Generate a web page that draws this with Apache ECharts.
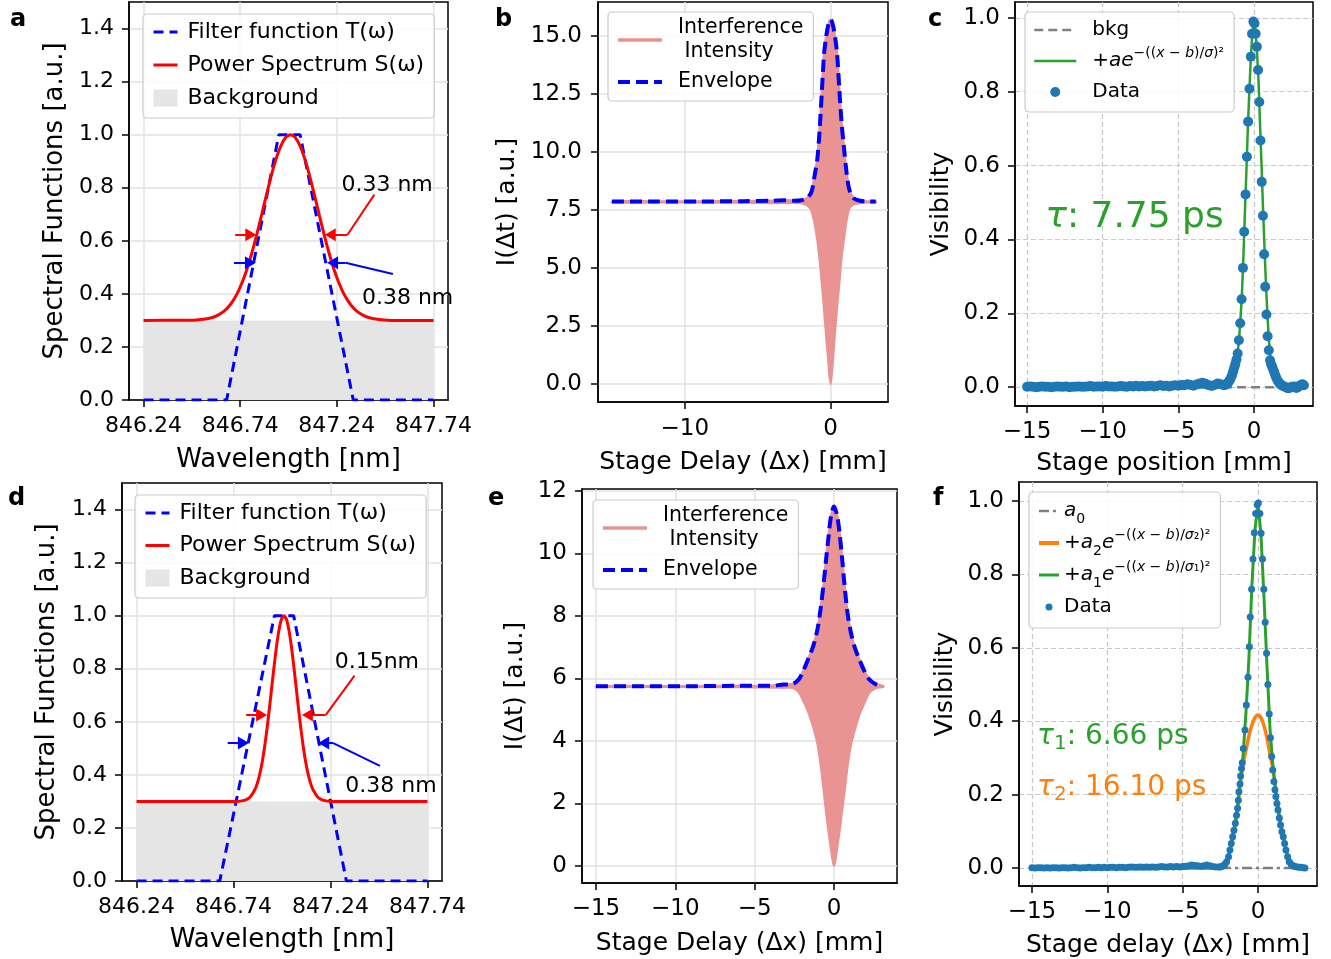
<!DOCTYPE html>
<html><head><meta charset="utf-8">
<script src="https://cdn.jsdelivr.net/npm/echarts@6/dist/echarts.min.js"></script>
<style>html,body{margin:0;padding:0;background:#fff}#c{width:1331px;height:959px}</style>
</head><body><div id="c"></div><script>
// ---------------- Panel a ----------------
const aFilter = [[846.24,0],[846.67,0],[846.94,1],[847.05,1],[847.325,0],[847.74,0]];
const aSpectrum = [[846.24,0.3],[846.45,0.301],[846.5,0.301],[846.55,0.304],[846.6,0.312],[846.625,0.32],[846.65,0.331],[846.675,0.348],[846.7,0.371],[846.725,0.402],[846.75,0.443],[846.775,0.493],[846.8,0.553],[846.825,0.621],[846.85,0.695],[846.875,0.77],[846.9,0.843],[846.925,0.907],[846.95,0.957],[846.975,0.989],[847.0,1.0],[847.025,0.989],[847.05,0.957],[847.075,0.907],[847.1,0.843],[847.125,0.77],[847.15,0.695],[847.175,0.621],[847.2,0.553],[847.225,0.493],[847.25,0.443],[847.275,0.402],[847.3,0.371],[847.325,0.348],[847.35,0.331],[847.375,0.32],[847.4,0.312],[847.45,0.304],[847.5,0.301],[847.55,0.3],[847.74,0.3]];
const aBackground = [[846.24,0.3],[847.74,0.3]];
// arrows: [x1,y1,x2,y2,hasHead]
const aRedArrows = [[846.714,0.623,846.795,0.623,1],[847.434,0.774,847.295,0.623,0],[847.295,0.623,847.206,0.623,1]];
const aBlueArrows = [[846.708,0.517,846.793,0.517,1],[847.53,0.475,847.285,0.517,0],[847.285,0.517,847.218,0.517,1]];
const aNotes = [[847.50,0.811,'0.33 nm'],[847.606,0.385,'0.38 nm']];

// ---------------- Panel d ----------------
const dFilter = [[846.24,0],[846.669,0],[846.951,1],[847.05,1],[847.322,0],[847.74,0]];
const dSpectrum = [[846.24,0.3],[846.75,0.3],[846.775,0.301],[846.8,0.305],[846.825,0.316],[846.85,0.344],[846.8625,0.368],[846.875,0.402],[846.8875,0.447],[846.9,0.504],[846.9125,0.573],[846.925,0.65],[846.9375,0.733],[846.95,0.814],[846.9625,0.889],[846.975,0.948],[846.9875,0.987],[847.0,1.0],[847.0125,0.987],[847.025,0.948],[847.0375,0.889],[847.05,0.814],[847.0625,0.733],[847.075,0.65],[847.0875,0.573],[847.1,0.504],[847.1125,0.447],[847.125,0.402],[847.1375,0.368],[847.15,0.344],[847.175,0.316],[847.2,0.305],[847.225,0.301],[847.25,0.3],[847.74,0.3]];
const dBackground = [[846.24,0.3],[847.74,0.3]];
const dRedArrows = [[846.805,0.626,846.885,0.626,1],[847.364,0.774,847.216,0.626,0],[847.216,0.626,847.121,0.626,1]];
const dBlueArrows = [[846.71,0.52,846.791,0.52,1],[847.495,0.434,847.254,0.52,0],[847.254,0.52,847.205,0.52,1]];
const dNotes = [[847.479,0.823,'0.15nm'],[847.552,0.358,'0.38 nm']];

// ---------------- Panel b ----------------
const bX = [-15,-12,-9,-6,-4,-3,-2.5,-2,-1.6,-1.3,-1.1,-0.9,-0.75,-0.6,-0.45,-0.3,-0.15,0,0.15,0.3,0.45,0.6,0.75,0.9,1.1,1.3,1.6,2.0,2.5,3.1];
const bUpper = [7.87,7.87,7.87,7.88,7.9,7.92,7.9,7.92,8.02,8.3,8.97,9.75,10.97,12.6,14.2,15.0,15.5,15.72,15.5,15.0,14.2,12.7,11.3,10.3,9.1,8.35,8.0,7.9,7.87,7.87];
const bLower = [7.83,7.83,7.83,7.82,7.8,7.8,7.82,7.8,7.7,7.45,6.95,6.2,5.4,4.4,3.3,2.1,1.0,0.0,1.0,2.3,3.4,4.4,5.5,6.2,7.1,7.6,7.75,7.8,7.83,7.83];

// ---------------- Panel e ----------------
const eX = [-15,-12,-9,-6,-4,-3.2,-2.6,-2.2,-1.9,-1.6,-1.3,-1.05,-0.85,-0.65,-0.5,-0.35,-0.2,0,0.2,0.35,0.5,0.65,0.85,1.05,1.3,1.6,1.9,2.2,2.6,3.1];
const eUpper = [5.75,5.75,5.75,5.76,5.76,5.8,5.82,5.98,6.28,6.65,7.05,7.55,8.2,9.05,9.8,10.5,11.15,11.5,11.2,10.65,9.9,9.05,8.1,7.5,7.0,6.6,6.25,5.98,5.82,5.75];
const eLower = [5.73,5.73,5.73,5.72,5.71,5.7,5.7,5.55,5.25,4.9,4.45,3.95,3.3,2.45,1.75,1.15,0.6,0.0,0.6,1.15,1.75,2.35,3.2,3.85,4.35,4.85,5.2,5.52,5.68,5.73];

// ---------------- Panel c ----------------
const cFlatStart = -15, cFlatStep = 0.2;
const cFlatY = [0.001,0.002,0.001,0,0.001,0.002,0.001,0.001,0,0.001,
 0.002,0.001,0.001,0.002,0,0.001,0.001,0.002,0.001,0.001,
 0.002,0.003,0.001,0.002,0.002,0.001,0.003,0.002,0.002,0.001,
 0.002,0.003,0.002,0.001,0.003,0.002,0.004,0.002,0.003,0.002,
 0.003,0.004,0.002,0.003,0.005,0.003,0.004,0.002,0.004,0.005,
 0.004,0.006,0.005,0.008,0.006,0.004,0.007,0.01,0.012,0.009,
 0.005,0.003,0.006,0.01,0.008,0.005];
const cPeak = [[-1.9,0.006],[-1.8,0.009],[-1.72,0.012],[-1.65,0.016],[-1.58,0.021],[-1.51,0.027],[-1.44,0.034],[-1.37,0.044],[-1.3,0.054],[-1.23,0.063],[-1.16,0.075],[-1.08,0.091],[-1.0,0.127],[-0.91,0.173],[-0.82,0.238],[-0.73,0.323],[-0.65,0.421],[-0.56,0.522],[-0.47,0.624],[-0.39,0.719],[-0.3,0.808],[-0.21,0.895],[-0.13,0.957],[-0.04,0.99],[0.035,0.985],[0.11,0.957],[0.19,0.922],[0.27,0.859],[0.35,0.772],[0.43,0.668],[0.51,0.556],[0.59,0.464],[0.67,0.36],[0.74,0.272],[0.82,0.197],[0.9,0.138],[0.98,0.1],[1.06,0.073],[1.13,0.062],[1.2,0.055],[1.27,0.048],[1.34,0.04],[1.41,0.032],[1.48,0.025],[1.56,0.018],[1.64,0.013],[1.72,0.009],[1.8,0.006],[1.9,0.003],[2.0,0.002],[2.1,0.0],[2.2,-0.002],[2.3,-0.003],[2.4,-0.001],[2.5,0.001],[2.6,0.0],[2.7,0.002],[2.8,-0.002],[2.9,0.0],[3.0,0.003],[3.1,0.006],[3.2,0.008],[3.3,0.005]];
const cFit = [[-15,0],[-2.4,0.0],[-2.0,0.003],[-1.7,0.01],[-1.5,0.02],[-1.3,0.04],[-1.15,0.07],[-1.0,0.125],[-0.9,0.18],[-0.8,0.25],[-0.7,0.355],[-0.6,0.475],[-0.5,0.59],[-0.4,0.71],[-0.3,0.81],[-0.2,0.9],[-0.1,0.965],[0,0.99],[0.1,0.965],[0.2,0.905],[0.3,0.83],[0.4,0.71],[0.5,0.6],[0.6,0.48],[0.7,0.37],[0.8,0.27],[0.9,0.185],[1.0,0.12],[1.1,0.075],[1.3,0.035],[1.5,0.018],[1.7,0.008],[2.0,0.002],[2.4,0],[3.3,0]];
const cBkg = [[-15,0],[3.3,0]];
const cNote = [[-7.9,0.458,'{ti|τ}{t|: 7.75 ps}']];

// ---------------- Panel f ----------------
const fFlatStart = -15, fFlatStep = 0.2;
const fFlatY = [0.001,0,0.001,0.001,0,0.001,0,0.001,0.001,0,
 0.001,0.001,0,0.001,0.002,0.001,0,0.001,0.001,0.002,
 0.001,0.001,0.002,0.001,0.002,0.001,0.002,0.002,0.001,0.002,
 0.002,0.001,0.002,0.003,0.002,0.002,0.003,0.002,0.003,0.002,
 0.003,0.002,0.003,0.004,0.003,0.003,0.004,0.003,0.004,0.003,
 0.004,0.005,0.006,0.008,0.007,0.006,0.005,0.006,0.008,0.006,
 0.004,0.003,0.003];
const fPeak = [[-2.5,0.003],[-2.4,0.004],[-2.3,0.006],[-2.19,0.01],[-2.08,0.017],[-1.95,0.031],[-1.86,0.049],[-1.77,0.067],[-1.68,0.085],[-1.59,0.103],[-1.5,0.122],[-1.42,0.144],[-1.35,0.163],[-1.3,0.185],[-1.26,0.208],[-1.19,0.229],[-1.15,0.251],[-1.09,0.271],[-1.04,0.287],[-0.97,0.326],[-0.86,0.376],[-0.77,0.444],[-0.66,0.52],[-0.57,0.603],[-0.51,0.684],[-0.42,0.76],[-0.33,0.842],[-0.24,0.914],[-0.15,0.966],[-0.05,0.99],[0.03,0.995],[0.13,0.966],[0.21,0.912],[0.3,0.842],[0.39,0.76],[0.48,0.67],[0.57,0.585],[0.66,0.5],[0.75,0.42],[0.83,0.355],[0.91,0.304],[0.98,0.267],[1.06,0.236],[1.13,0.213],[1.19,0.195],[1.26,0.176],[1.33,0.158],[1.42,0.136],[1.5,0.117],[1.59,0.099],[1.68,0.085],[1.77,0.067],[1.86,0.049],[1.97,0.031],[2.08,0.017],[2.2,0.01],[2.33,0.006],[2.46,0.004],[2.6,0.003],[2.73,0.002],[2.86,0.002],[3.0,0.001],[3.12,0.0]];
const fFitNarrow = [[-15,0],[-3.0,0.001],[-2.7,0.004],[-2.4,0.009],[-2.1,0.02],[-1.95,0.033],[-1.8,0.06],[-1.68,0.086],[-1.5,0.124],[-1.35,0.167],[-1.2,0.23],[-1.0,0.3],[-0.8,0.42],[-0.6,0.57],[-0.4,0.77],[-0.2,0.92],[0,0.995],[0.2,0.91],[0.4,0.74],[0.6,0.55],[0.8,0.38],[1.0,0.275],[1.2,0.205],[1.35,0.16],[1.5,0.12],[1.68,0.086],[1.8,0.063],[1.95,0.036],[2.1,0.02],[2.4,0.008],[2.7,0.003],[3.1,0.0]];
const fFitBroad = [[-15,0],[-3.0,0.0],[-2.7,0.002],[-2.4,0.007],[-2.1,0.018],[-1.95,0.03],[-1.8,0.058],[-1.68,0.083],[-1.5,0.12],[-1.35,0.163],[-1.2,0.22],[-1.0,0.28],[-0.8,0.32],[-0.6,0.36],[-0.4,0.39],[-0.2,0.41],[0,0.417],[0.2,0.41],[0.4,0.388],[0.6,0.355],[0.8,0.31],[1.0,0.27],[1.2,0.2],[1.35,0.155],[1.5,0.116],[1.68,0.083],[1.8,0.06],[1.95,0.034],[2.1,0.018],[2.4,0.007],[2.7,0.002],[3.1,0.0]];
const fBkg = [[-15,0],[3.1,0]];
const fNotes = [[-14.66,0.357,'{gi|τ}{gs|1}{g|: 6.66 ps}'],[-14.66,0.218,'{oi|τ}{os|2}{o|: 16.10 ps}']];

// ---------------- Ticks ----------------
const wlTicks = [846.24,846.74,847.24,847.74];
const specYTicks = [0,0.2,0.4,0.6,0.8,1.0,1.2,1.4];
const bXTicks = [-10,0];
const bYTicks = [0,2.5,5,7.5,10,12.5,15];
const delayTicks = [-15,-10,-5,0];
const visTicks = [0,0.2,0.4,0.6,0.8,1.0];
const eYTicks = [0,2,4,6,8,10,12];

// ================= build =================
const FONT = 'DejaVu Sans';
const BLUE = '#0000ff', RED = '#ff0000', PINK = '#ea9393', TBLUE = '#1f77b4', GREEN = '#2ca02c', ORANGE = '#ff7f0e', GRAY = '#808080';
const solidGrid = {color:'#e2e2e2', width:1.5};
const dashGrid = {color:'#c8c8c8', width:1.2, type:[5,3]};
const minus = v => String(v).replace('-', '\u2212');

function axis(gi, min, max, ticks, fmt, name, gap, fs, nfs, grid, margin, isY) {
  return {
    gridIndex: gi, type:'value', min, max, name, nameLocation:'middle', nameGap: gap,
    nameRotate: isY ? 90 : 0,
    nameTextStyle:{fontSize:nfs, color:'#000', fontFamily:FONT},
    axisLine:{show:true, onZero:false, lineStyle:{color:'#000', width:1.5}},
    axisTick:{show:true, inside:false, length:7, lineStyle:{color:'#000', width:1.5}, customValues:ticks},
    axisLabel:{show:true, customValues:ticks, formatter:fmt, fontSize:fs, color:'#000', margin, fontFamily:FONT},
    splitLine:{show:true, lineStyle:grid}
  };
}

const grids = [
  {left:129, top:2, width:319, height:398},
  {left:598, top:2, width:290, height:400},
  {left:1015, top:2, width:298, height:404},
  {left:122, top:483, width:320, height:398},
  {left:582, top:489, width:315, height:394},
  {left:1019, top:482, width:298, height:404}
].map(g => Object.assign({show:true, borderColor:'#000', borderWidth:1.5, containLabel:false, outerBoundsMode:'none'}, g));

const xAxes = [
  axis(0, 846.165, 847.815, wlTicks, v=>v.toFixed(2), 'Wavelength [nm]', 47, 22, 26, solidGrid, 15, false),
  axis(1, -15.96, 3.94, bXTicks, minus, 'Stage Delay (Δx) [mm]', 48, 23, 25, solidGrid, 16, false),
  axis(2, -15.8, 3.9, delayTicks, minus, 'Stage position [mm]', 45, 23, 25, dashGrid, 15, false),
  axis(3, 846.165, 847.815, wlTicks, v=>v.toFixed(2), 'Wavelength [nm]', 46, 22, 26, solidGrid, 15, false),
  axis(4, -15.88, 3.97, delayTicks, minus, 'Stage Delay (Δx) [mm]', 48, 23, 25, solidGrid, 15, false),
  axis(5, -15.86, 3.92, delayTicks, minus, 'Stage delay (Δx) [mm]', 47, 23, 25, dashGrid, 15, false)
];
const yAxes = [
  axis(0, 0, 1.5, specYTicks, v=>v.toFixed(1), 'Spectral Functions [a.u.]', 61, 22, 26, solidGrid, 15, true),
  axis(1, -0.78, 16.47, bYTicks, v=>v.toFixed(1), 'I(Δt) [a.u.]', 78, 23, 25, solidGrid, 16, true),
  axis(2, -0.051, 1.043, visTicks, v=>v.toFixed(1), 'Visibility', 61, 23, 25, dashGrid, 15, true),
  axis(3, 0, 1.5, specYTicks, v=>v.toFixed(1), 'Spectral Functions [a.u.]', 62, 22, 26, solidGrid, 15, true),
  axis(4, -0.55, 12.06, eYTicks, v=>String(v), 'I(Δt) [a.u.]', 54, 23, 25, solidGrid, 15, true),
  axis(5, -0.049, 1.052, visTicks, v=>v.toFixed(1), 'Visibility', 61, 23, 25, dashGrid, 15, true)
];

function arrowLines(list, color) {
  return list.map(a => [
    {coord:[a[0],a[1]], symbol:'none', lineStyle:{color, width:2, type:'solid'}},
    {coord:[a[2],a[3]], symbol: a[4] ? 'triangle' : 'none', symbolSize:[13,11], lineStyle:{color, width:2, type:'solid'}, itemStyle:{color}}
  ]);
}
function noteSeries(gi, notes, fs, align, rich, redArrows, blueArrows) {
  const s = {
    type:'scatter', xAxisIndex:gi, yAxisIndex:gi, silent:true, z:6,
    symbolSize:1, itemStyle:{color:'rgba(0,0,0,0)', opacity:1},
    data: notes.map(n => [n[0], n[1], n[2]]),
    label:{show:true, position:'inside', align, verticalAlign:'middle', formatter:p=>p.value[2], color:'#000', opacity:1, fontSize:fs, fontFamily:FONT, rich: rich || {}},
    labelLayout:{hideOverlap:false}
  };
  if (redArrows) {
    s.markLine = {silent:true, animation:false, symbol:['none','none'], label:{show:false}, emphasis:{disabled:true},
      data: arrowLines(redArrows, RED).concat(arrowLines(blueArrows, BLUE))};
  }
  return s;
}
function spectralSeries(gi, filter, spectrum, bg) {
  return [
    {name:'Background', type:'line', xAxisIndex:gi, yAxisIndex:gi, data:bg, symbol:'none', silent:true,
     lineStyle:{width:0, color:'#e5e5e5'}, itemStyle:{color:'#e5e5e5'}, areaStyle:{color:'#e5e5e5', opacity:1}, z:1},
    {name:'Filter function T(ω)', type:'line', xAxisIndex:gi, yAxisIndex:gi, data:filter, symbol:'none', silent:true,
     lineStyle:{color:BLUE, width:3, type:[10,6]}, itemStyle:{color:BLUE}, z:3},
    {name:'Power Spectrum S(ω)', type:'line', xAxisIndex:gi, yAxisIndex:gi, data:spectrum, symbol:'none', silent:true, smooth:0.2,
     lineStyle:{color:RED, width:3}, itemStyle:{color:RED}, z:3}
  ];
}
// filled band between the lower and upper envelopes, drawn through the axis scales
function interfSeries(gi, xs, up, lo) {
  return [
    {type:'custom', xAxisIndex:gi, yAxisIndex:gi, silent:true, z:2, clip:true,
     data:[[xs[0], up[0]]],
     renderItem:(params, api) => {
       const pts = [];
       for (let i = 0; i < xs.length; i++) pts.push(api.coord([xs[i], up[i]]));
       for (let i = xs.length - 1; i >= 0; i--) pts.push(api.coord([xs[i], lo[i]]));
       return {type:'polygon', shape:{points:pts, smooth:0.3}, style:{fill:PINK, stroke:PINK, lineWidth:2.5}};
     }},
    {name:'Interference\n Intensity', type:'line', xAxisIndex:gi, yAxisIndex:gi, data:[], symbol:'none', silent:true,
     lineStyle:{color:PINK, width:3.5}, itemStyle:{color:PINK}},
    {name:'Envelope', type:'line', xAxisIndex:gi, yAxisIndex:gi, symbol:'none', silent:true, smooth:0.3,
     data: xs.map((x,i)=>[x, up[i]]), lineStyle:{color:BLUE, width:4, type:[12,6]}, itemStyle:{color:BLUE}, z:3}
  ];
}

const cData = cFlatY.map((y,i)=>[cFlatStart + i*cFlatStep, y]).concat(cPeak);
const fData = fFlatY.map((y,i)=>[fFlatStart + i*fFlatStep, y]).concat(fPeak);

const tauRich = {
  ti:{fontSize:36, fontStyle:'italic', color:GREEN, fontFamily:FONT, lineHeight:40},
  t:{fontSize:36, color:GREEN, fontFamily:FONT, lineHeight:40},
  gi:{fontSize:28, fontStyle:'italic', color:GREEN, fontFamily:FONT, lineHeight:34},
  gs:{fontSize:20, color:GREEN, fontFamily:FONT, lineHeight:18, verticalAlign:'bottom'},
  g:{fontSize:28, color:GREEN, fontFamily:FONT, lineHeight:34},
  oi:{fontSize:28, fontStyle:'italic', color:ORANGE, fontFamily:FONT, lineHeight:34},
  os:{fontSize:20, color:ORANGE, fontFamily:FONT, lineHeight:18, verticalAlign:'bottom'},
  o:{fontSize:28, color:ORANGE, fontFamily:FONT, lineHeight:34}
};

const series = [].concat(
  spectralSeries(0, aFilter, aSpectrum, aBackground),
  [noteSeries(0, aNotes, 22, 'center', null, aRedArrows, aBlueArrows)],
  spectralSeries(3, dFilter, dSpectrum, dBackground),
  [noteSeries(3, dNotes, 22, 'center', null, dRedArrows, dBlueArrows)],
  interfSeries(1, bX, bUpper, bLower),
  interfSeries(4, eX, eUpper, eLower),
  [
    {name:'bkg', type:'line', xAxisIndex:2, yAxisIndex:2, data:cBkg, symbol:'none', silent:true,
     lineStyle:{color:GRAY, width:2.5, type:[9,5]}, itemStyle:{color:GRAY}, z:2},
    {name:'fitC', type:'line', xAxisIndex:2, yAxisIndex:2, data:cFit, symbol:'none', silent:true,
     lineStyle:{color:GREEN, width:2.5}, itemStyle:{color:GREEN}, z:3},
    {name:'Data', type:'scatter', xAxisIndex:2, yAxisIndex:2, data:cData, symbol:'circle', symbolSize:10, silent:true,
     itemStyle:{color:TBLUE, opacity:1}, z:4},
    noteSeries(2, cNote, 36, 'center', tauRich),
    {name:'a0', type:'line', xAxisIndex:5, yAxisIndex:5, data:fBkg, symbol:'none', silent:true,
     lineStyle:{color:GRAY, width:2.5, type:[10,4,3,4]}, itemStyle:{color:GRAY}, z:2},
    {name:'fitF2', type:'line', xAxisIndex:5, yAxisIndex:5, data:fFitBroad, symbol:'none', silent:true, smooth:0.3,
     lineStyle:{color:ORANGE, width:3.5}, itemStyle:{color:ORANGE}, z:3},
    {name:'fitF1', type:'line', xAxisIndex:5, yAxisIndex:5, data:fFitNarrow, symbol:'none', silent:true,
     lineStyle:{color:GREEN, width:3}, itemStyle:{color:GREEN}, z:3},
    {name:'DataF', type:'scatter', xAxisIndex:5, yAxisIndex:5, data:fData, symbol:'circle', symbolSize:7, silent:true,
     itemStyle:{color:TBLUE, opacity:1}, z:4},
    noteSeries(5, fNotes, 28, 'left', tauRich)
  ]
);

const labelMap = {
  'fitC':'{n|+}{i|ae}{s|\u2212((}{si|x}{s| \u2212 }{si|b}{s|)/}{si|σ}{s|)²}',
  'a0':'{i|a}{sub|0}',
  'fitF2':'{n|+}{i|a}{sub|2}{i|e}{s|\u2212((}{si|x}{s| \u2212 }{si|b}{s|)/}{si|σ}{s|₂)²}',
  'fitF1':'{n|+}{i|a}{sub|1}{i|e}{s|\u2212((}{si|x}{s| \u2212 }{si|b}{s|)/}{si|σ}{s|₁)²}',
  'DataF':'Data'
};
const mathRich = {
  n:{fontSize:20, fontFamily:FONT, lineHeight:30},
  i:{fontSize:20, fontFamily:FONT, fontStyle:'italic', lineHeight:30},
  s:{fontSize:14, fontFamily:FONT, lineHeight:6, verticalAlign:'top'},
  si:{fontSize:14, fontFamily:FONT, fontStyle:'italic', lineHeight:6, verticalAlign:'top'},
  sub:{fontSize:14, fontFamily:FONT, lineHeight:18, verticalAlign:'bottom'}
};
function legend(cfg) {
  return Object.assign({
    orient:'vertical', selectedMode:false, backgroundColor:'rgba(255,255,255,0.85)',
    borderColor:'#cccccc', borderWidth:1.2, borderRadius:4,
    itemStyle:{opacity:0},
    formatter: n => labelMap[n] || n
  }, cfg);
}
const lw = w => ({lineStyle:{width:w}});
const legends = [
  legend({left:143, top:14, padding:[5,10,7,9], itemWidth:24, itemHeight:17, itemGap:7,
    data:[Object.assign({name:'Filter function T(ω)'}, lw(3)), Object.assign({name:'Power Spectrum S(ω)'}, lw(3)),
          {name:'Background', icon:'rect', itemStyle:{opacity:1, color:'#e5e5e5'}}],
    textStyle:{fontSize:22, lineHeight:26, color:'#000', fontFamily:FONT, padding:[0,0,0,5]}}),
  legend({left:135, top:495, padding:[5,10,7,9], itemWidth:24, itemHeight:17, itemGap:6.5,
    data:[Object.assign({name:'Filter function T(ω)'}, lw(3)), Object.assign({name:'Power Spectrum S(ω)'}, lw(3)),
          {name:'Background', icon:'rect', itemStyle:{opacity:1, color:'#e5e5e5'}}],
    textStyle:{fontSize:22, lineHeight:26, color:'#000', fontFamily:FONT, padding:[0,0,0,5]}}),
  legend({left:608, top:12, padding:[4,10,7,8], itemWidth:44, itemHeight:14, itemGap:6,
    data:[Object.assign({name:'Interference\n Intensity'}, lw(3.5)), Object.assign({name:'Envelope'}, lw(4))],
    textStyle:{fontSize:20.5, lineHeight:24, color:'#000', fontFamily:FONT, padding:[0,0,0,11]}}),
  legend({left:593, top:500, padding:[4,10,7,8], itemWidth:44, itemHeight:14, itemGap:6,
    data:[Object.assign({name:'Interference\n Intensity'}, lw(3.5)), Object.assign({name:'Envelope'}, lw(4))],
    textStyle:{fontSize:20.5, lineHeight:24, color:'#000', fontFamily:FONT, padding:[0,0,0,11]}}),
  legend({left:1025, top:12, padding:[3,10,5,8], itemWidth:42, itemHeight:10, itemGap:1,
    data:[Object.assign({name:'bkg'}, lw(2.5)), Object.assign({name:'fitC'}, lw(2.5)),
          {name:'Data', icon:'circle', itemStyle:{opacity:1, color:TBLUE}}],
    textStyle:{fontSize:20, lineHeight:30, color:'#000', fontFamily:FONT, padding:[0,0,0,11], rich:mathRich}}),
  legend({left:1029, top:492, padding:[4,10,6,8], itemWidth:20, itemHeight:7, itemGap:2,
    data:[Object.assign({name:'a0'}, lw(2.5)), Object.assign({name:'fitF2'}, lw(4)), Object.assign({name:'fitF1'}, lw(3)),
          {name:'DataF', icon:'circle', itemStyle:{opacity:1, color:TBLUE}}],
    textStyle:{fontSize:20, lineHeight:30, color:'#000', fontFamily:FONT, rich:mathRich}})
];

const letters = [['a',10,8],['b',495,8],['c',928,8],['d',8,487],['e',488,487],['f',933,487]];
const graphic = letters.map(l => ({type:'text', left:l[1], top:l[2], silent:true,
  style:{text:l[0], fontSize:24, fontWeight:'bold', fontFamily:FONT, fill:'#000'}}));

const chart = echarts.init(document.getElementById('c'), null, {renderer:'canvas'});
chart.setOption({
  animation:false,
  backgroundColor:'#ffffff',
  textStyle:{fontFamily:FONT},
  grid:grids, xAxis:xAxes, yAxis:yAxes,
  legend:legends, series, graphic
});
</script></body></html>
